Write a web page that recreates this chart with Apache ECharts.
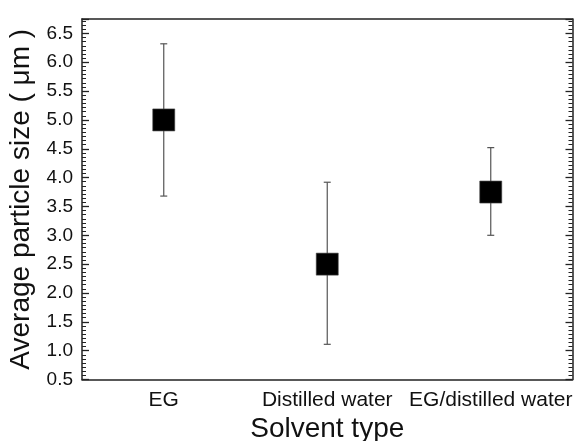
<!DOCTYPE html>
<html>
<head>
<meta charset="utf-8">
<script src="https://cdn.jsdelivr.net/npm/echarts@6/dist/echarts.min.js"></script>
<style>html,body{margin:0;padding:0;background:#fff;}#main{width:574px;height:441px;}</style>
</head>
<body>
<div id="main"></div>
<script>
const categories = ['EG', 'Distilled water', 'EG/distilled water'];
const meanSize = [5.0, 2.5, 3.75];
const errLow = [3.68, 1.11, 3.0];
const errHigh = [6.32, 3.92, 4.52];
const yTicks = [0.5, 6.75, 0.5]; // min, max, interval

const chart = echarts.init(document.getElementById('main'), null, {renderer: 'canvas'});
const font = 'Liberation Sans, Arial, sans-serif';
const axisCol = '#222';

const yAxisBase = {
  type: 'value', min: yTicks[0], max: yTicks[1], interval: yTicks[2],
  axisLine: {show: true, lineStyle: {color: axisCol, width: 1.5}},
  axisTick: {show: true, inside: true, length: 7, lineStyle: {color: axisCol, width: 1.3}},
  minorTick: {show: true, splitNumber: 7, length: 4, lineStyle: {color: axisCol, width: 1}},
  splitLine: {show: false}
};

const option = {
  animation: false,
  backgroundColor: '#fff',
  grid: {left: 82, right: 1.5, top: 19, bottom: 61.5, containLabel: false, outerBoundsMode: 'none'},
  xAxis: [{
    type: 'category', data: categories, position: 'bottom',
    axisLine: {lineStyle: {color: axisCol, width: 1.5}},
    axisTick: {inside: true, alignWithLabel: true, length: 7, lineStyle: {color: axisCol, width: 1.3}},
    axisLabel: {color: '#111', fontFamily: font, fontSize: 21, margin: 10, interval: 0},
    name: 'Solvent type', nameLocation: 'middle', nameGap: 32,
    nameTextStyle: {color: '#111', fontFamily: font, fontSize: 28}
  }, {
    type: 'category', data: categories, position: 'top',
    axisLine: {lineStyle: {color: axisCol, width: 1.5}},
    axisTick: {inside: true, alignWithLabel: true, length: 7, lineStyle: {color: axisCol, width: 1.3}},
    axisLabel: {show: false}
  }],
  yAxis: [Object.assign({}, yAxisBase, {
    position: 'left',
    axisLabel: {color: '#111', fontFamily: font, fontSize: 19, margin: 9, showMaxLabel: false,
      formatter: v => (Math.abs(v - 6.75) < 1e-6 ? '' : v.toFixed(1))},
    name: 'Average particle size ( \u03bcm )', nameLocation: 'middle', nameGap: 44,
    nameTextStyle: {color: '#111', fontFamily: font, fontSize: 28}
  }), Object.assign({}, yAxisBase, {
    position: 'right',
    axisLabel: {show: false}
  })],
  series: [{
    type: 'custom',
    xAxisIndex: 0, yAxisIndex: 0,
    data: categories.map((c, i) => [i, errLow[i], errHigh[i]]),
    renderItem: function (params, api) {
      const x = api.value(0);
      const lo = api.coord([x, api.value(1)]);
      const hi = api.coord([x, api.value(2)]);
      const cap = 3.5;
      const style = {stroke: '#555', lineWidth: 1.2};
      return {type: 'group', children: [
        {type: 'line', shape: {x1: lo[0], y1: lo[1], x2: hi[0], y2: hi[1]}, style: style},
        {type: 'line', shape: {x1: lo[0] - cap, y1: lo[1], x2: lo[0] + cap, y2: lo[1]}, style: style},
        {type: 'line', shape: {x1: hi[0] - cap, y1: hi[1], x2: hi[0] + cap, y2: hi[1]}, style: style}
      ]};
    },
    z: 2
  }, {
    type: 'scatter',
    xAxisIndex: 0, yAxisIndex: 0,
    data: categories.map((c, i) => [i, meanSize[i]]),
    symbol: 'rect', symbolSize: 22,
    itemStyle: {color: '#000', borderColor: '#444', borderWidth: 0.6, opacity: 1},
    z: 3
  }]
};
chart.setOption(option);
</script>
</body>
</html>
